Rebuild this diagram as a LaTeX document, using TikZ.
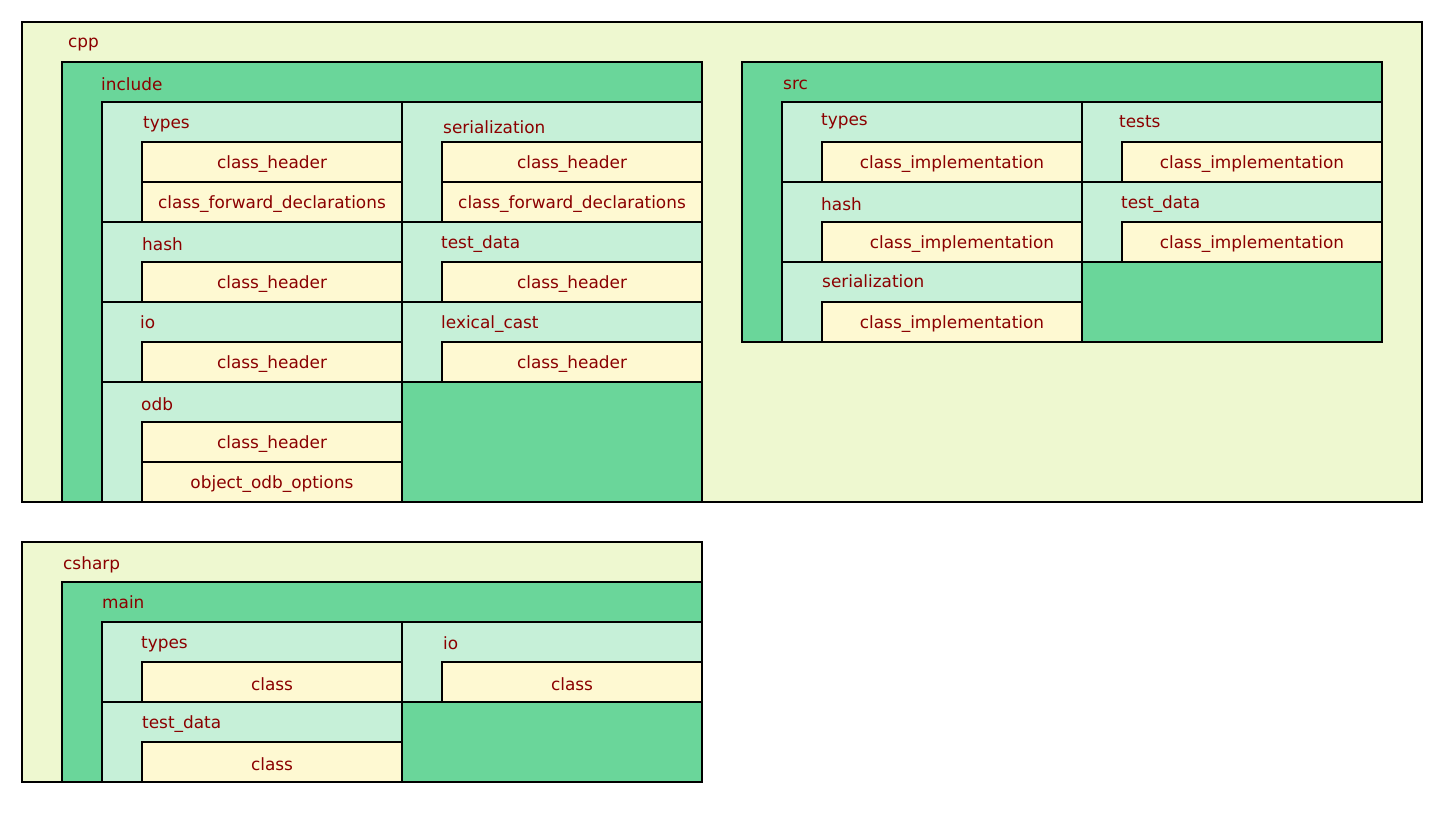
\documentclass[tikz,border=0pt]{standalone}
\usepackage{fontspec}
\setmainfont{DejaVu Sans}
\definecolor{pkgouter}{HTML}{EEF8D0}
\definecolor{pkggreen}{HTML}{6AD69A}
\definecolor{pkglight}{HTML}{C6F0D8}
\definecolor{leafyellow}{HTML}{FEF9D2}
\definecolor{labelred}{HTML}{8B0000}
\tikzset{
  boxbase/.style={draw=black, line width=2pt, inner sep=0pt, outer sep=0pt, anchor=north west,
    text=labelred, font=\fontsize{16.9}{20}\selectfont},
  outerbox/.style={boxbase, fill=pkgouter},
  greenbox/.style={boxbase, fill=pkggreen},
  lightbox/.style={boxbase, fill=pkglight},
  leafbox/.style={boxbase, fill=leafyellow},
  leaftext/.style={anchor=center, inner sep=0pt, yshift=-2pt, text=labelred, font=\fontsize{16.9}{20}\selectfont},
  grouplabel/.style={anchor=west, inner sep=0pt, yshift=-2.5pt, text=labelred, font=\fontsize{16.9}{20}\selectfont}
}
% \bx{name}{x1}{y1}{x2}{y2}{style}{text}
\newcommand\bx[7]{\node[#6, minimum width={(#4-#2)*1pt}, minimum height={(#5-#3)*1pt}] (#1) at (#2,#3) {};
  \node[leaftext] (#1-t) at ({(#2+#4)/2},{(#3+#5)/2}) {#7};}
\newcommand\gl[4]{\node[grouplabel] (#1) at (#2,#3) {#4};}
\begin{document}
\begin{tikzpicture}[x=1pt,y=-1pt]
\useasboundingbox (0,0) rectangle (1443,823);
% cpp
\bx{cpp}{22}{22}{1422}{502}{outerbox}{}
\gl{cppl}{68}{42}{cpp}
\bx{inc}{62}{62}{702}{502}{greenbox}{}
\gl{incl}{101}{82}{include}
\bx{itypes}{102}{102}{402}{222}{lightbox}{}
\gl{itypesl}{143}{122}{types}
\bx{itypesa}{142}{142}{402}{182}{leafbox}{class\_header}
\bx{itypesb}{142}{182}{402}{222}{leafbox}{class\_forward\_declarations}
\bx{iser}{402}{102}{702}{222}{lightbox}{}
\gl{iserl}{443}{125}{serialization}
\bx{isera}{442}{142}{702}{182}{leafbox}{class\_header}
\bx{iserb}{442}{182}{702}{222}{leafbox}{class\_forward\_declarations}
\bx{ihash}{102}{222}{402}{302}{lightbox}{}
\gl{ihashl}{142}{242}{hash}
\bx{ihasha}{142}{262}{402}{302}{leafbox}{class\_header}
\bx{itd}{402}{222}{702}{302}{lightbox}{}
\gl{itdl}{441}{242}{test\_data}
\bx{itda}{442}{262}{702}{302}{leafbox}{class\_header}
\bx{iio}{102}{302}{402}{382}{lightbox}{}
\gl{iiol}{140}{320}{io}
\bx{iioa}{142}{342}{402}{382}{leafbox}{class\_header}
\bx{ilc}{402}{302}{702}{382}{lightbox}{}
\gl{ilcl}{441}{322}{lexical\_cast}
\bx{ilca}{442}{342}{702}{382}{leafbox}{class\_header}
\bx{iodb}{102}{382}{402}{502}{lightbox}{}
\gl{iodbl}{141}{402}{odb}
\bx{iodba}{142}{422}{402}{462}{leafbox}{class\_header}
\bx{iodbb}{142}{462}{402}{502}{leafbox}{object\_odb\_options}
% src
\bx{src}{742}{62}{1382}{342}{greenbox}{}
\gl{srcl}{783}{82}{src}
\bx{stypes}{782}{102}{1082}{182}{lightbox}{}
\gl{stypesl}{821}{119}{types}
\bx{stypesa}{822}{142}{1082}{182}{leafbox}{class\_implementation}
\bx{stests}{1082}{102}{1382}{182}{lightbox}{}
\gl{stestsl}{1119}{119}{tests}
\bx{stestsa}{1122}{142}{1382}{182}{leafbox}{class\_implementation}
\bx{shash}{782}{182}{1082}{262}{lightbox}{}
\gl{shashl}{821}{202}{hash}
\bx{shasha}{822}{222}{1082}{262}{leafbox}{\hspace*{20pt}class\_implementation}
\bx{std}{1082}{182}{1382}{262}{lightbox}{}
\gl{stdl}{1121}{202}{test\_data}
\bx{stda}{1122}{222}{1382}{262}{leafbox}{class\_implementation}
\bx{sser}{782}{262}{1082}{342}{lightbox}{}
\gl{sserl}{822}{279}{serialization}
\bx{ssera}{822}{302}{1082}{342}{leafbox}{class\_implementation}
% csharp
\bx{cs}{22}{542}{702}{782}{outerbox}{}
\gl{csl}{63}{562}{csharp}
\bx{main}{62}{582}{702}{782}{greenbox}{}
\gl{mainl}{102}{600}{main}
\bx{ctypes}{102}{622}{402}{702}{lightbox}{}
\gl{ctypesl}{141}{642}{types}
\bx{ctypesa}{142}{662}{402}{702}{leafbox}{class}
\bx{cio}{402}{622}{702}{702}{lightbox}{}
\gl{ciol}{443}{641}{io}
\bx{cioa}{442}{662}{702}{702}{leafbox}{class}
\bx{ctd}{102}{702}{402}{782}{lightbox}{}
\gl{ctdl}{142}{722}{test\_data}
\bx{ctda}{142}{742}{402}{782}{leafbox}{class}
\end{tikzpicture}
\end{document}
